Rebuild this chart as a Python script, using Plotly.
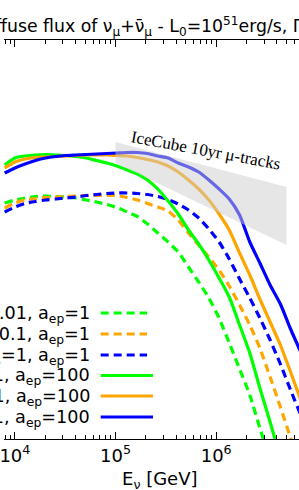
import plotly.graph_objects as go

# ---------------- data ----------------
# neutrino energy grid [GeV]
energy = [7.92e3, 1.00e4, 1.26e4, 1.60e4, 2.02e4, 2.55e4, 3.22e4, 4.06e4, 5.13e4, 6.48e4,
          8.19e4, 1.03e5, 1.31e5, 1.65e5, 2.08e5, 2.63e5, 3.33e5, 4.20e5, 5.31e5, 6.71e5,
          8.47e5, 1.07e6, 1.35e6, 1.71e6, 2.16e6, 2.72e6, 3.44e6, 4.35e6, 5.49e6, 6.94e6]

# log10(E^2 dN/dE)
dash_green = [-8.35, -8.32, -8.30, -8.285, -8.28, -8.285, -8.29, -8.30, -8.32, -8.34,
              -8.365, -8.395, -8.44, -8.485, -8.56, -8.65, -8.74, -8.84, -8.99, -9.14,
              -9.30, -9.50, -9.75, -10.01, -10.27, -10.60, -10.92]
dash_orange = [-8.40, -8.35, -8.32, -8.305, -8.295, -8.29, -8.285, -8.28, -8.275, -8.275,
               -8.275, -8.275, -8.295, -8.32, -8.355, -8.39, -8.43, -8.52, -8.65, -8.77,
               -8.89, -9.02, -9.18, -9.37, -9.57, -9.80, -10.09, -10.39, -10.70, -11.02]
dash_blue = [-8.44, -8.39, -8.355, -8.335, -8.32, -8.31, -8.30, -8.29, -8.275, -8.265,
             -8.255, -8.25, -8.25, -8.255, -8.265, -8.285, -8.315, -8.36, -8.42, -8.50,
             -8.61, -8.74, -8.91, -9.11, -9.30, -9.50, -9.72, -9.96, -10.22, -10.47]
solid_green = [-7.97, -7.90, -7.88, -7.87, -7.865, -7.87, -7.875, -7.885, -7.90, -7.925,
               -7.95, -7.98, -8.02, -8.06, -8.12, -8.21, -8.33, -8.46, -8.62, -8.76,
               -8.92, -9.10, -9.29, -9.57, -9.85, -10.20, -10.54, -10.90]
solid_orange = [-8.00, -7.94, -7.91, -7.895, -7.89, -7.885, -7.88, -7.875, -7.87, -7.87,
                -7.87, -7.875, -7.88, -7.895, -7.915, -7.94, -7.98, -8.04, -8.12, -8.21,
                -8.32, -8.46, -8.62, -8.85, -9.07, -9.31, -9.54, -9.77, -10.04, -10.32]
solid_blue = [-8.05, -8.00, -7.96, -7.925, -7.90, -7.885, -7.875, -7.87, -7.865, -7.86,
              -7.855, -7.85, -7.845, -7.845, -7.855, -7.88, -7.90, -7.95, -7.99, -8.04,
              -8.12, -8.21, -8.31, -8.47, -8.74, -8.95, -9.17, -9.36, -9.61, -9.84]

# IceCube 10yr muon-track band
band_energy = [1e5, 5e6, 5e6, 1e5]
band_flux = [-7.74, -8.19, -8.77, -7.95]

legend_labels = [
    "ε<sub>B</sub>=0.01, a<sub>ep</sub>=1",
    "ε<sub>B</sub>=0.1, a<sub>ep</sub>=1",
    "ε<sub>B</sub>=1, a<sub>ep</sub>=1",
    "ε<sub>B</sub>=0.01, a<sub>ep</sub>=100",
    "ε<sub>B</sub>=0.1, a<sub>ep</sub>=100",
    "ε<sub>B</sub>=1, a<sub>ep</sub>=100",
]
major_ticks = [1e4, 1e5, 1e6]
major_labels = ["10<sup>4</sup>", "10<sup>5</sup>", "10<sup>6</sup>"]
minor_ticks = [m * 10 ** d for d in (3, 4, 5, 6) for m in range(2, 10)]

title_text = ("Diffuse flux of ν<sub>μ</sub>+ν̄<sub>μ</sub> - L<sub>0</sub>=10<sup>51</sup>"
              "erg/s, Γ")
xlabel_text = "E<sub>ν</sub> [GeV]"
band_label = "IceCube 10yr μ-tracks"

# ---------------- style ----------------
W, H = 299, 490
TOP, BOTTOM = 40, 439
GREEN, ORANGE, BLUE = "#00ff00", "#ffa500", "#0000ff"
DASH = "8px,5px"
LW = 3.2
FONT = "DejaVu Sans"


def px_x(px):
    return px / W


def px_y(py):
    return (BOTTOM - py) / (BOTTOM - TOP)


series = [
    (dash_green, GREEN, DASH),
    (dash_orange, ORANGE, DASH),
    (dash_blue, BLUE, DASH),
    (solid_green, GREEN, "solid"),
    (solid_orange, ORANGE, "solid"),
    (solid_blue, BLUE, "solid"),
]

fig = go.Figure()
for vals, col, dash in series:
    fig.add_trace(go.Scatter(
        x=energy[:len(vals)], y=vals, mode="lines",
        line=dict(color=col, width=LW, dash=dash, shape="spline", smoothing=0.6),
        showlegend=False, hoverinfo="skip"))

fig.add_trace(go.Scatter(
    x=band_energy, y=band_flux, mode="lines", fill="toself",
    fillcolor="rgba(205,205,205,0.5)", line=dict(width=0),
    showlegend=False, hoverinfo="skip"))

# legend (text left of the line sample)
leg_y = [313, 334, 355, 375.5, 396, 417]
for (vals, col, dash), lab, ly in zip(series, legend_labels, leg_y):
    fig.add_annotation(text=lab, xref="paper", yref="paper", x=px_x(89), y=px_y(ly + 1),
                       xanchor="right", yanchor="middle", showarrow=False,
                       font=dict(family=FONT, size=17.6, color="black"))
    fig.add_shape(type="line", xref="paper", yref="paper",
                  x0=px_x(98), x1=px_x(145 if dash != "solid" else 151),
                  y0=px_y(ly), y1=px_y(ly),
                  line=dict(color=col, width=LW, dash=dash))

fig.add_annotation(text=band_label, xref="paper", yref="paper", x=px_x(205), y=px_y(150),
                   xanchor="center", yanchor="middle", textangle=10.5, showarrow=False,
                   font=dict(family="Liberation Serif", size=17, color="black"))

fig.add_annotation(text=title_text, xref="paper", yref="paper", x=px_x(-29.5), y=px_y(41),
                   xanchor="left", yanchor="bottom", showarrow=False,
                   font=dict(family=FONT, size=17.3, color="black"))

fig.add_annotation(text=xlabel_text, xref="paper", yref="paper", x=px_x(158), y=px_y(494),
                   xanchor="center", yanchor="bottom", showarrow=False,
                   font=dict(family=FONT, size=18, color="black"))

fig.update_layout(
    width=W, height=H,
    margin=dict(l=0, r=0, t=TOP, b=H - BOTTOM, pad=0),
    paper_bgcolor="white", plot_bgcolor="white",
    xaxis=dict(type="log", range=[3.892, 6.8235], showgrid=False, zeroline=False,
               showline=True, linecolor="black", linewidth=1.3, mirror="allticks",
               ticks="inside", ticklen=7, tickwidth=1.3, tickcolor="black",
               tickvals=major_ticks, ticktext=major_labels, ticklabeloverflow="allow",
               tickfont=dict(family=FONT, size=18, color="black"),
               minor=dict(ticks="inside", ticklen=4, tickwidth=1.1, tickcolor="black",
                          tickvals=minor_ticks, showgrid=False)),
    yaxis=dict(range=[-10.71, -6.72], visible=False, showgrid=False),
)

fig.write_html("out.html", config={"displayModeBar": False},
               post_script="document.body.style.margin='0';")
